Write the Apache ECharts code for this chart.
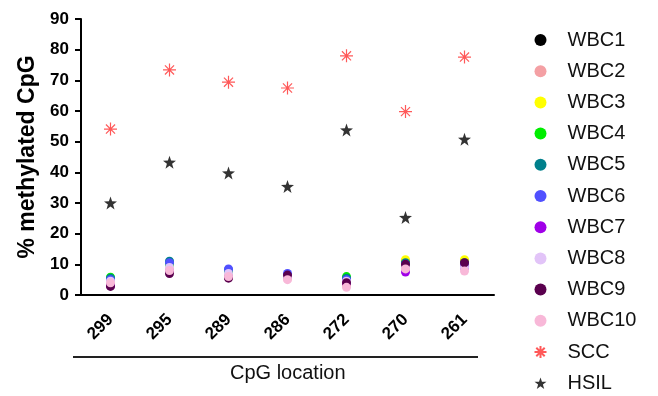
<!DOCTYPE html>
<html>
<head>
<meta charset="utf-8">
<script src="https://cdn.jsdelivr.net/npm/echarts@6/dist/echarts.min.js"></script>
<style>
  html, body { margin: 0; padding: 0; background: #fff; }
  #chart { width: 658px; height: 396px; }
</style>
</head>
<body>
<div id="chart"></div>
<script>
const categories = ['299', '295', '289', '286', '272', '270', '261'];
const yTicks = [0, 10, 20, 30, 40, 50, 60, 70, 80, 90];

const WBC1 = [3.5, 8, 6, 6, 4, 11, 11];
const WBC2 = [4, 8.5, 6.5, 5.5, 3, 9, 9];
const WBC3 = [5, 9, 7, 6, 5, 11.5, 11.5];
const WBC4 = [5.8, 10, 7.5, 6.5, 6, 10, 10];
const WBC5 = [5.5, 11, 8, 6.5, 5.5, 10.5, 10.5];
const WBC6 = [5, 10.5, 8.5, 7, 5, 10, 10];
const WBC7 = [3, 8, 6, 6, 4, 7.5, 9];
const WBC8 = [4.5, 9, 7, 6, 4.5, 9, 9];
const WBC9 = [2.8, 7, 5.5, 6.5, 4, 10, 10.5];
const WBC10 = [4, 8, 6, 5, 2.5, 8.5, 7.8];
const SCC = [54.1, 73.4, 69.4, 67.5, 78, 59.8, 77.6];
const HSIL = [30, 43.3, 39.8, 35.4, 53.8, 25.3, 50.8];

const wbcSeries = [
  ['WBC1', WBC1, '#000000'],
  ['WBC2', WBC2, '#f4a0a4'],
  ['WBC3', WBC3, '#ffff00'],
  ['WBC4', WBC4, '#00ee00'],
  ['WBC5', WBC5, '#00808c'],
  ['WBC6', WBC6, '#5050ff'],
  ['WBC7', WBC7, '#a000e8'],
  ['WBC8', WBC8, '#e2c4f8'],
  ['WBC9', WBC9, '#5a004e'],
  ['WBC10', WBC10, '#f8b8d8']
];

const asterisk = 'path://M0,-6L0,6M-6,0L6,0M-4.2,-4.2L4.2,4.2M-4.2,4.2L4.2,-4.2';
const star = 'path://M0,-10L2.35,-3.24L9.51,-3.09L3.8,1.24L5.88,8.09L0,4L-5.88,8.09L-3.8,1.24L-9.51,-3.09L-2.35,-3.24Z';

const chart = echarts.init(document.getElementById('chart'));

const series = wbcSeries.map(([name, data, color]) => ({
  name,
  type: 'scatter',
  data,
  symbol: 'circle',
  symbolSize: 9,
  itemStyle: { color, opacity: 1 }
}));

series.push({
  name: 'SCC',
  type: 'scatter',
  data: SCC,
  symbol: asterisk,
  symbolSize: 13,
  itemStyle: { color: 'none', borderColor: '#ff3030', borderWidth: 1.2 }
});
series.push({
  name: 'HSIL',
  type: 'scatter',
  data: HSIL,
  symbol: star,
  symbolSize: 13,
  itemStyle: { color: '#000000' }
});

const option = {
  animation: false,
  grid: { left: 81, right: 164, top: 19, bottom: 101 },
  legend: {
    orient: 'vertical',
    left: 532,
    top: 30,
    padding: 0,
    itemWidth: 12,
    itemHeight: 12,
    itemGap: 11.2,
    textStyle: { fontFamily: 'Liberation Sans', fontSize: 20, color: '#111', padding: [0, 0, 0, 16] },
    data: series.map((s) => s.name)
  },
  xAxis: {
    type: 'category',
    data: categories,
    axisLine: { lineStyle: { color: '#000', width: 2 } },
    axisTick: { alignWithLabel: true, length: 6, lineStyle: { color: '#000', width: 2 } },
    axisLabel: {
      rotate: 45,
      margin: 22,
      color: '#000',
      fontFamily: 'Liberation Sans',
      fontWeight: 'bold',
      fontSize: 17
    },
    splitLine: { show: false }
  },
  yAxis: {
    type: 'value',
    min: 0,
    max: 90,
    interval: 10,
    name: '% methylated CpG',
    nameLocation: 'middle',
    nameGap: 38,
    nameTextStyle: { fontFamily: 'Liberation Sans', fontWeight: 'bold', fontSize: 23, color: '#000' },
    axisLine: { show: true, lineStyle: { color: '#000', width: 2 } },
    axisTick: { show: true, length: 6, lineStyle: { color: '#000', width: 2 } },
    axisLabel: {
      margin: 12,
      color: '#000',
      fontFamily: 'Liberation Sans',
      fontWeight: 'bold',
      fontSize: 17,
      formatter: (v) => (yTicks.includes(v) ? String(v) : '')
    },
    splitLine: { show: false }
  },
  graphic: [
    {
      type: 'line',
      shape: { x1: 73, y1: 357, x2: 478, y2: 357 },
      style: { stroke: '#222', lineWidth: 2 }
    },
    {
      type: 'text',
      left: 230,
      top: 363,
      style: { text: 'CpG location', fontFamily: 'Liberation Sans', fontSize: 20, fill: '#111' }
    }
  ],
  series
};

chart.setOption(option);
</script>
</body>
</html>
